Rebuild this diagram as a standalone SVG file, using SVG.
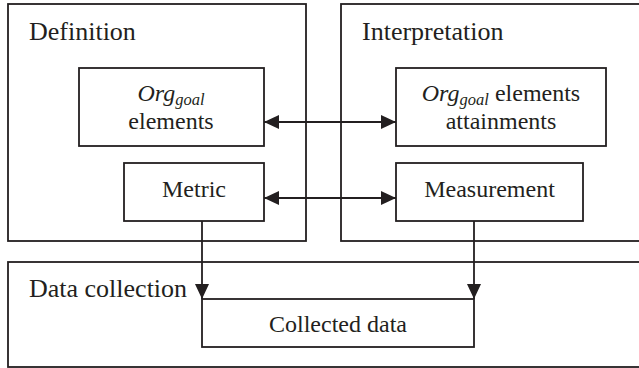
<svg xmlns="http://www.w3.org/2000/svg" width="639" height="368" viewBox="0 0 639 368">
  <style>
    .box { fill: none; stroke: #231f20; stroke-width: 1.8; }
    .node { fill: #ffffff; stroke: #231f20; stroke-width: 1.8; }
    .conn { fill: none; stroke: #231f20; stroke-width: 1.8; }
    .title { font-family: "Liberation Serif", "Times New Roman", serif; font-size: 26px; fill: #231f20; }
    .lbl { font-family: "Liberation Serif", "Times New Roman", serif; font-size: 24px; fill: #231f20; text-anchor: middle; }
    .it { font-style: italic; }
    .sub { font-style: italic; font-size: 16.5px; }
  </style>
  <defs>
    <marker id="arr" markerUnits="userSpaceOnUse" markerWidth="15" markerHeight="14" refX="15" refY="7" orient="auto-start-reverse">
      <path d="M0,0 L15,7 L0,14 z" fill="#231f20"/>
    </marker>
  </defs>

  <g id="definition">
    <rect class="box" x="8" y="4" width="298" height="237"/>
    <text class="title" x="29" y="40">Definition</text>
  </g>
  <g id="interpretation">
    <rect class="box" x="341" y="4" width="310" height="237"/>
    <text class="title" x="362" y="40">Interpretation</text>
  </g>
  <g id="data-collection">
    <rect class="box" x="8" y="262" width="640" height="105"/>
    <text class="title" x="29" y="297">Data collection</text>
  </g>

  <g id="org-elements">
    <rect class="node" x="79" y="68" width="185" height="78"/>
    <text class="lbl" x="171" y="101"><tspan class="it">Org</tspan><tspan class="sub" dy="4">goal</tspan></text>
    <text class="lbl" x="171" y="129">elements</text>
  </g>
  <g id="metric">
    <rect class="node" x="124" y="163" width="140" height="58"/>
    <text class="lbl" x="194" y="197">Metric</text>
  </g>
  <g id="org-attainments">
    <rect class="node" x="396" y="68" width="210" height="78"/>
    <text class="lbl" x="501" y="101"><tspan class="it">Org</tspan><tspan class="sub" dy="4">goal</tspan><tspan dy="-4"> elements</tspan></text>
    <text class="lbl" x="501" y="129">attainments</text>
  </g>
  <g id="measurement">
    <rect class="node" x="396" y="163" width="187" height="58"/>
    <text class="lbl" x="489.5" y="197">Measurement</text>
  </g>
  <g id="collected-data">
    <rect class="node" x="202" y="299" width="272" height="48"/>
    <text class="lbl" x="338" y="332">Collected data</text>
  </g>

  <g id="connectors">
    <line class="conn" x1="264" y1="122" x2="396" y2="122" marker-start="url(#arr)" marker-end="url(#arr)"/>
    <line class="conn" x1="264" y1="198" x2="396" y2="198" marker-start="url(#arr)" marker-end="url(#arr)"/>
    <line class="conn" x1="202" y1="221" x2="202" y2="299" marker-end="url(#arr)"/>
    <line class="conn" x1="474" y1="221" x2="474" y2="299" marker-end="url(#arr)"/>
  </g>
</svg>
